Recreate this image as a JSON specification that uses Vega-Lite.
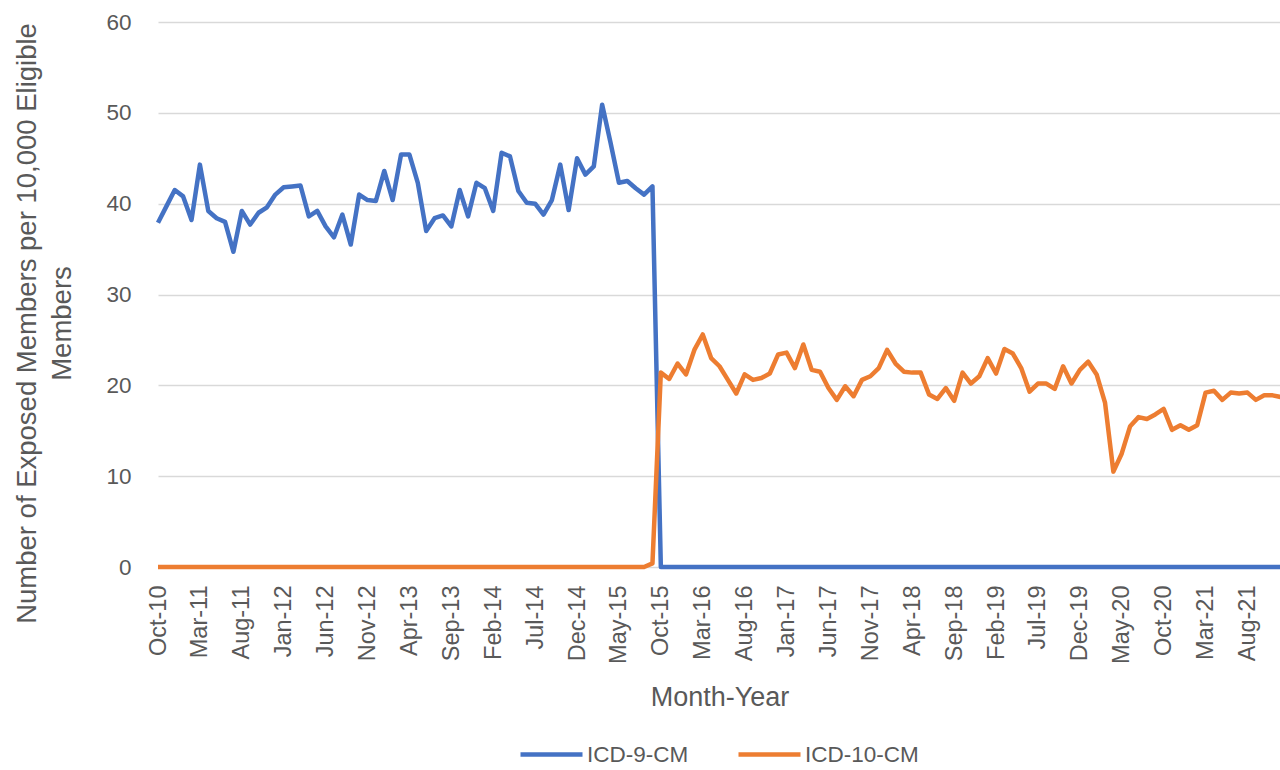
{
"$schema": "https://vega.github.io/schema/vega-lite/v6.json",
"width": 1123,
"height": 545,
"autosize": {"type": "none"},
"padding": {"left": 158, "top": 22, "right": 0, "bottom": 203},
"background": "white",
"config": {"font": "Liberation Sans", "view": {"stroke": null}},
"data": {"values": [
{"month":"Oct-10","series":"ICD-9-CM","value":37.9},{"month":"Nov-10","series":"ICD-9-CM","value":39.7},{"month":"Dec-10","series":"ICD-9-CM","value":41.5},{"month":"Jan-11","series":"ICD-9-CM","value":40.8},{"month":"Feb-11","series":"ICD-9-CM","value":38.2},{"month":"Mar-11","series":"ICD-9-CM","value":44.3},{"month":"Apr-11","series":"ICD-9-CM","value":39.2},{"month":"May-11","series":"ICD-9-CM","value":38.4},{"month":"Jun-11","series":"ICD-9-CM","value":38.0},{"month":"Jul-11","series":"ICD-9-CM","value":34.7},{"month":"Aug-11","series":"ICD-9-CM","value":39.2},{"month":"Sep-11","series":"ICD-9-CM","value":37.7},{"month":"Oct-11","series":"ICD-9-CM","value":39.0},{"month":"Nov-11","series":"ICD-9-CM","value":39.6},{"month":"Dec-11","series":"ICD-9-CM","value":41.0},{"month":"Jan-12","series":"ICD-9-CM","value":41.8},{"month":"Feb-12","series":"ICD-9-CM","value":41.9},{"month":"Mar-12","series":"ICD-9-CM","value":42.0},{"month":"Apr-12","series":"ICD-9-CM","value":38.6},{"month":"May-12","series":"ICD-9-CM","value":39.2},{"month":"Jun-12","series":"ICD-9-CM","value":37.5},{"month":"Jul-12","series":"ICD-9-CM","value":36.3},{"month":"Aug-12","series":"ICD-9-CM","value":38.8},{"month":"Sep-12","series":"ICD-9-CM","value":35.5},{"month":"Oct-12","series":"ICD-9-CM","value":41.0},{"month":"Nov-12","series":"ICD-9-CM","value":40.4},{"month":"Dec-12","series":"ICD-9-CM","value":40.3},{"month":"Jan-13","series":"ICD-9-CM","value":43.6},{"month":"Feb-13","series":"ICD-9-CM","value":40.4},{"month":"Mar-13","series":"ICD-9-CM","value":45.4},{"month":"Apr-13","series":"ICD-9-CM","value":45.4},{"month":"May-13","series":"ICD-9-CM","value":42.3},{"month":"Jun-13","series":"ICD-9-CM","value":37.0},{"month":"Jul-13","series":"ICD-9-CM","value":38.4},{"month":"Aug-13","series":"ICD-9-CM","value":38.7},{"month":"Sep-13","series":"ICD-9-CM","value":37.5},{"month":"Oct-13","series":"ICD-9-CM","value":41.5},{"month":"Nov-13","series":"ICD-9-CM","value":38.6},{"month":"Dec-13","series":"ICD-9-CM","value":42.3},{"month":"Jan-14","series":"ICD-9-CM","value":41.7},{"month":"Feb-14","series":"ICD-9-CM","value":39.2},{"month":"Mar-14","series":"ICD-9-CM","value":45.6},{"month":"Apr-14","series":"ICD-9-CM","value":45.2},{"month":"May-14","series":"ICD-9-CM","value":41.4},{"month":"Jun-14","series":"ICD-9-CM","value":40.1},{"month":"Jul-14","series":"ICD-9-CM","value":40.0},{"month":"Aug-14","series":"ICD-9-CM","value":38.8},{"month":"Sep-14","series":"ICD-9-CM","value":40.4},{"month":"Oct-14","series":"ICD-9-CM","value":44.3},{"month":"Nov-14","series":"ICD-9-CM","value":39.3},{"month":"Dec-14","series":"ICD-9-CM","value":45.0},{"month":"Jan-15","series":"ICD-9-CM","value":43.2},{"month":"Feb-15","series":"ICD-9-CM","value":44.1},{"month":"Mar-15","series":"ICD-9-CM","value":50.9},{"month":"Apr-15","series":"ICD-9-CM","value":46.7},{"month":"May-15","series":"ICD-9-CM","value":42.3},{"month":"Jun-15","series":"ICD-9-CM","value":42.5},{"month":"Jul-15","series":"ICD-9-CM","value":41.7},{"month":"Aug-15","series":"ICD-9-CM","value":41.0},{"month":"Sep-15","series":"ICD-9-CM","value":41.9},
{"month":"Oct-15","series":"ICD-9-CM","value":0},{"month":"Nov-15","series":"ICD-9-CM","value":0},{"month":"Dec-15","series":"ICD-9-CM","value":0},{"month":"Jan-16","series":"ICD-9-CM","value":0},{"month":"Feb-16","series":"ICD-9-CM","value":0},{"month":"Mar-16","series":"ICD-9-CM","value":0},{"month":"Apr-16","series":"ICD-9-CM","value":0},{"month":"May-16","series":"ICD-9-CM","value":0},{"month":"Jun-16","series":"ICD-9-CM","value":0},{"month":"Jul-16","series":"ICD-9-CM","value":0},{"month":"Aug-16","series":"ICD-9-CM","value":0},{"month":"Sep-16","series":"ICD-9-CM","value":0},{"month":"Oct-16","series":"ICD-9-CM","value":0},{"month":"Nov-16","series":"ICD-9-CM","value":0},{"month":"Dec-16","series":"ICD-9-CM","value":0},{"month":"Jan-17","series":"ICD-9-CM","value":0},{"month":"Feb-17","series":"ICD-9-CM","value":0},{"month":"Mar-17","series":"ICD-9-CM","value":0},{"month":"Apr-17","series":"ICD-9-CM","value":0},{"month":"May-17","series":"ICD-9-CM","value":0},{"month":"Jun-17","series":"ICD-9-CM","value":0},{"month":"Jul-17","series":"ICD-9-CM","value":0},{"month":"Aug-17","series":"ICD-9-CM","value":0},{"month":"Sep-17","series":"ICD-9-CM","value":0},{"month":"Oct-17","series":"ICD-9-CM","value":0},{"month":"Nov-17","series":"ICD-9-CM","value":0},{"month":"Dec-17","series":"ICD-9-CM","value":0},{"month":"Jan-18","series":"ICD-9-CM","value":0},{"month":"Feb-18","series":"ICD-9-CM","value":0},{"month":"Mar-18","series":"ICD-9-CM","value":0},{"month":"Apr-18","series":"ICD-9-CM","value":0},{"month":"May-18","series":"ICD-9-CM","value":0},{"month":"Jun-18","series":"ICD-9-CM","value":0},{"month":"Jul-18","series":"ICD-9-CM","value":0},{"month":"Aug-18","series":"ICD-9-CM","value":0},{"month":"Sep-18","series":"ICD-9-CM","value":0},{"month":"Oct-18","series":"ICD-9-CM","value":0},{"month":"Nov-18","series":"ICD-9-CM","value":0},{"month":"Dec-18","series":"ICD-9-CM","value":0},{"month":"Jan-19","series":"ICD-9-CM","value":0},{"month":"Feb-19","series":"ICD-9-CM","value":0},{"month":"Mar-19","series":"ICD-9-CM","value":0},{"month":"Apr-19","series":"ICD-9-CM","value":0},{"month":"May-19","series":"ICD-9-CM","value":0},{"month":"Jun-19","series":"ICD-9-CM","value":0},{"month":"Jul-19","series":"ICD-9-CM","value":0},{"month":"Aug-19","series":"ICD-9-CM","value":0},{"month":"Sep-19","series":"ICD-9-CM","value":0},{"month":"Oct-19","series":"ICD-9-CM","value":0},{"month":"Nov-19","series":"ICD-9-CM","value":0},{"month":"Dec-19","series":"ICD-9-CM","value":0},{"month":"Jan-20","series":"ICD-9-CM","value":0},{"month":"Feb-20","series":"ICD-9-CM","value":0},{"month":"Mar-20","series":"ICD-9-CM","value":0},{"month":"Apr-20","series":"ICD-9-CM","value":0},{"month":"May-20","series":"ICD-9-CM","value":0},{"month":"Jun-20","series":"ICD-9-CM","value":0},{"month":"Jul-20","series":"ICD-9-CM","value":0},{"month":"Aug-20","series":"ICD-9-CM","value":0},{"month":"Sep-20","series":"ICD-9-CM","value":0},{"month":"Oct-20","series":"ICD-9-CM","value":0},{"month":"Nov-20","series":"ICD-9-CM","value":0},{"month":"Dec-20","series":"ICD-9-CM","value":0},{"month":"Jan-21","series":"ICD-9-CM","value":0},{"month":"Feb-21","series":"ICD-9-CM","value":0},{"month":"Mar-21","series":"ICD-9-CM","value":0},{"month":"Apr-21","series":"ICD-9-CM","value":0},{"month":"May-21","series":"ICD-9-CM","value":0},{"month":"Jun-21","series":"ICD-9-CM","value":0},{"month":"Jul-21","series":"ICD-9-CM","value":0},{"month":"Aug-21","series":"ICD-9-CM","value":0},{"month":"Sep-21","series":"ICD-9-CM","value":0},{"month":"Oct-21","series":"ICD-9-CM","value":0},{"month":"Nov-21","series":"ICD-9-CM","value":0},{"month":"Dec-21","series":"ICD-9-CM","value":0},
{"month":"Oct-10","series":"ICD-10-CM","value":0},{"month":"Nov-10","series":"ICD-10-CM","value":0},{"month":"Dec-10","series":"ICD-10-CM","value":0},{"month":"Jan-11","series":"ICD-10-CM","value":0},{"month":"Feb-11","series":"ICD-10-CM","value":0},{"month":"Mar-11","series":"ICD-10-CM","value":0},{"month":"Apr-11","series":"ICD-10-CM","value":0},{"month":"May-11","series":"ICD-10-CM","value":0},{"month":"Jun-11","series":"ICD-10-CM","value":0},{"month":"Jul-11","series":"ICD-10-CM","value":0},{"month":"Aug-11","series":"ICD-10-CM","value":0},{"month":"Sep-11","series":"ICD-10-CM","value":0},{"month":"Oct-11","series":"ICD-10-CM","value":0},{"month":"Nov-11","series":"ICD-10-CM","value":0},{"month":"Dec-11","series":"ICD-10-CM","value":0},{"month":"Jan-12","series":"ICD-10-CM","value":0},{"month":"Feb-12","series":"ICD-10-CM","value":0},{"month":"Mar-12","series":"ICD-10-CM","value":0},{"month":"Apr-12","series":"ICD-10-CM","value":0},{"month":"May-12","series":"ICD-10-CM","value":0},{"month":"Jun-12","series":"ICD-10-CM","value":0},{"month":"Jul-12","series":"ICD-10-CM","value":0},{"month":"Aug-12","series":"ICD-10-CM","value":0},{"month":"Sep-12","series":"ICD-10-CM","value":0},{"month":"Oct-12","series":"ICD-10-CM","value":0},{"month":"Nov-12","series":"ICD-10-CM","value":0},{"month":"Dec-12","series":"ICD-10-CM","value":0},{"month":"Jan-13","series":"ICD-10-CM","value":0},{"month":"Feb-13","series":"ICD-10-CM","value":0},{"month":"Mar-13","series":"ICD-10-CM","value":0},{"month":"Apr-13","series":"ICD-10-CM","value":0},{"month":"May-13","series":"ICD-10-CM","value":0},{"month":"Jun-13","series":"ICD-10-CM","value":0},{"month":"Jul-13","series":"ICD-10-CM","value":0},{"month":"Aug-13","series":"ICD-10-CM","value":0},{"month":"Sep-13","series":"ICD-10-CM","value":0},{"month":"Oct-13","series":"ICD-10-CM","value":0},{"month":"Nov-13","series":"ICD-10-CM","value":0},{"month":"Dec-13","series":"ICD-10-CM","value":0},{"month":"Jan-14","series":"ICD-10-CM","value":0},{"month":"Feb-14","series":"ICD-10-CM","value":0},{"month":"Mar-14","series":"ICD-10-CM","value":0},{"month":"Apr-14","series":"ICD-10-CM","value":0},{"month":"May-14","series":"ICD-10-CM","value":0},{"month":"Jun-14","series":"ICD-10-CM","value":0},{"month":"Jul-14","series":"ICD-10-CM","value":0},{"month":"Aug-14","series":"ICD-10-CM","value":0},{"month":"Sep-14","series":"ICD-10-CM","value":0},{"month":"Oct-14","series":"ICD-10-CM","value":0},{"month":"Nov-14","series":"ICD-10-CM","value":0},{"month":"Dec-14","series":"ICD-10-CM","value":0},{"month":"Jan-15","series":"ICD-10-CM","value":0},{"month":"Feb-15","series":"ICD-10-CM","value":0},{"month":"Mar-15","series":"ICD-10-CM","value":0},{"month":"Apr-15","series":"ICD-10-CM","value":0},{"month":"May-15","series":"ICD-10-CM","value":0},{"month":"Jun-15","series":"ICD-10-CM","value":0},{"month":"Jul-15","series":"ICD-10-CM","value":0},{"month":"Aug-15","series":"ICD-10-CM","value":0},{"month":"Sep-15","series":"ICD-10-CM","value":0.4},
{"month":"Oct-15","series":"ICD-10-CM","value":21.4},{"month":"Nov-15","series":"ICD-10-CM","value":20.7},{"month":"Dec-15","series":"ICD-10-CM","value":22.4},{"month":"Jan-16","series":"ICD-10-CM","value":21.2},{"month":"Feb-16","series":"ICD-10-CM","value":23.9},{"month":"Mar-16","series":"ICD-10-CM","value":25.6},{"month":"Apr-16","series":"ICD-10-CM","value":23.0},{"month":"May-16","series":"ICD-10-CM","value":22.1},{"month":"Jun-16","series":"ICD-10-CM","value":20.6},{"month":"Jul-16","series":"ICD-10-CM","value":19.1},{"month":"Aug-16","series":"ICD-10-CM","value":21.2},{"month":"Sep-16","series":"ICD-10-CM","value":20.6},{"month":"Oct-16","series":"ICD-10-CM","value":20.8},{"month":"Nov-16","series":"ICD-10-CM","value":21.3},{"month":"Dec-16","series":"ICD-10-CM","value":23.4},{"month":"Jan-17","series":"ICD-10-CM","value":23.6},{"month":"Feb-17","series":"ICD-10-CM","value":21.9},{"month":"Mar-17","series":"ICD-10-CM","value":24.5},{"month":"Apr-17","series":"ICD-10-CM","value":21.7},{"month":"May-17","series":"ICD-10-CM","value":21.5},{"month":"Jun-17","series":"ICD-10-CM","value":19.7},{"month":"Jul-17","series":"ICD-10-CM","value":18.4},{"month":"Aug-17","series":"ICD-10-CM","value":19.9},{"month":"Sep-17","series":"ICD-10-CM","value":18.8},{"month":"Oct-17","series":"ICD-10-CM","value":20.6},{"month":"Nov-17","series":"ICD-10-CM","value":21.0},{"month":"Dec-17","series":"ICD-10-CM","value":21.9},{"month":"Jan-18","series":"ICD-10-CM","value":23.9},{"month":"Feb-18","series":"ICD-10-CM","value":22.4},{"month":"Mar-18","series":"ICD-10-CM","value":21.5},{"month":"Apr-18","series":"ICD-10-CM","value":21.4},{"month":"May-18","series":"ICD-10-CM","value":21.4},{"month":"Jun-18","series":"ICD-10-CM","value":19.0},{"month":"Jul-18","series":"ICD-10-CM","value":18.5},{"month":"Aug-18","series":"ICD-10-CM","value":19.7},{"month":"Sep-18","series":"ICD-10-CM","value":18.3},{"month":"Oct-18","series":"ICD-10-CM","value":21.4},{"month":"Nov-18","series":"ICD-10-CM","value":20.2},{"month":"Dec-18","series":"ICD-10-CM","value":21.0},{"month":"Jan-19","series":"ICD-10-CM","value":23.0},{"month":"Feb-19","series":"ICD-10-CM","value":21.3},{"month":"Mar-19","series":"ICD-10-CM","value":24.0},{"month":"Apr-19","series":"ICD-10-CM","value":23.5},{"month":"May-19","series":"ICD-10-CM","value":21.9},{"month":"Jun-19","series":"ICD-10-CM","value":19.3},{"month":"Jul-19","series":"ICD-10-CM","value":20.2},{"month":"Aug-19","series":"ICD-10-CM","value":20.2},{"month":"Sep-19","series":"ICD-10-CM","value":19.6},{"month":"Oct-19","series":"ICD-10-CM","value":22.1},{"month":"Nov-19","series":"ICD-10-CM","value":20.2},{"month":"Dec-19","series":"ICD-10-CM","value":21.7},{"month":"Jan-20","series":"ICD-10-CM","value":22.6},{"month":"Feb-20","series":"ICD-10-CM","value":21.2},{"month":"Mar-20","series":"ICD-10-CM","value":18.1},{"month":"Apr-20","series":"ICD-10-CM","value":10.5},{"month":"May-20","series":"ICD-10-CM","value":12.5},{"month":"Jun-20","series":"ICD-10-CM","value":15.5},{"month":"Jul-20","series":"ICD-10-CM","value":16.5},{"month":"Aug-20","series":"ICD-10-CM","value":16.3},{"month":"Sep-20","series":"ICD-10-CM","value":16.8},{"month":"Oct-20","series":"ICD-10-CM","value":17.4},{"month":"Nov-20","series":"ICD-10-CM","value":15.1},{"month":"Dec-20","series":"ICD-10-CM","value":15.6},{"month":"Jan-21","series":"ICD-10-CM","value":15.1},{"month":"Feb-21","series":"ICD-10-CM","value":15.6},{"month":"Mar-21","series":"ICD-10-CM","value":19.2},{"month":"Apr-21","series":"ICD-10-CM","value":19.4},{"month":"May-21","series":"ICD-10-CM","value":18.4},{"month":"Jun-21","series":"ICD-10-CM","value":19.2},{"month":"Jul-21","series":"ICD-10-CM","value":19.1},{"month":"Aug-21","series":"ICD-10-CM","value":19.2},{"month":"Sep-21","series":"ICD-10-CM","value":18.4},{"month":"Oct-21","series":"ICD-10-CM","value":18.9},{"month":"Nov-21","series":"ICD-10-CM","value":18.9},{"month":"Dec-21","series":"ICD-10-CM","value":18.7}
]},
"encoding": {
  "x": {"field": "month", "type": "ordinal", "sort": null,
    "scale": {"type": "point", "padding": 0},
    "axis": {"values": ["Oct-10","Mar-11","Aug-11","Jan-12","Jun-12","Nov-12","Apr-13","Sep-13","Feb-14","Jul-14","Dec-14","May-15","Oct-15","Mar-16","Aug-16","Jan-17","Jun-17","Nov-17","Apr-18","Sep-18","Feb-19","Jul-19","Dec-19","May-20","Oct-20","Mar-21","Aug-21"],
      "labelAngle": -90, "labelFontSize": 23.5, "labelColor": "#595959", "labelPadding": 18,
      "ticks": false, "domainColor": "#d9d9d9", "grid": false, "labelOverlap": false,
      "title": "Month-Year", "titleFontSize": 27, "titleFontWeight": "normal", "titleColor": "#595959",
      "titleY": 130, "titleBaseline": "middle"}},
  "y": {"field": "value", "type": "quantitative",
    "scale": {"domain": [0, 60], "nice": false},
    "axis": {"values": [0,10,20,30,40,50,60], "domain": false, "ticks": false,
      "labelPadding": 27, "labelFontSize": 22.5, "labelColor": "#595959",
      "grid": true, "gridColor": "#d9d9d9", "gridWidth": 1.3,
      "title": ["Number of Exposed Members per 10,000 Eligible", "Members"],
      "titleFontSize": 27.5, "titleFontWeight": "normal", "titleColor": "#595959",
      "titleAngle": -90, "titleLineHeight": 35, "titleX": -131, "titleY": 301,
      "titleAlign": "center", "titleBaseline": "middle"}},
  "color": {"field": "series", "type": "nominal",
    "scale": {"domain": ["ICD-9-CM", "ICD-10-CM"], "range": ["#4472C4", "#ED7D31"]},
    "legend": {"orient": "none", "direction": "horizontal", "legendX": 360, "legendY": 699,
      "title": null, "symbolType": "stroke", "symbolSize": 3844, "symbolStrokeWidth": 4.5,
      "labelFontSize": 22.5, "labelColor": "#595959", "labelOffset": 2, "columnPadding": 40, "padding": 0}}
},
"layer": [
  {"transform": [{"filter": "datum.series === 'ICD-9-CM'"}],
   "mark": {"type": "line", "strokeWidth": 4.5, "strokeJoin": "round"}},
  {"transform": [{"filter": "datum.series === 'ICD-10-CM'"}],
   "mark": {"type": "line", "strokeWidth": 4.5, "strokeJoin": "round"}}
]
}
